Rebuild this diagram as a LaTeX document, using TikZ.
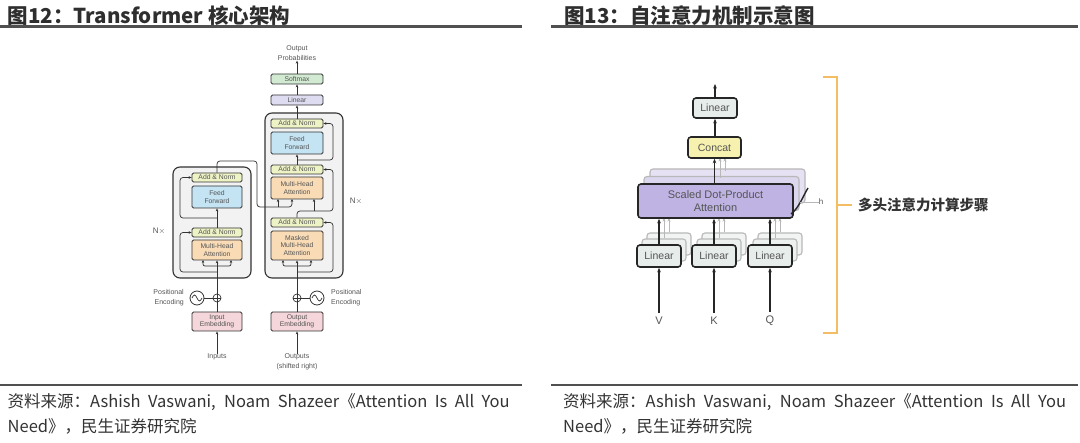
\documentclass[tikz,border=0pt]{standalone}
\usepackage{fontspec}
\setmainfont{Noto Sans CJK SC}
\newfontfamily\labf{Liberation Sans}
\usetikzlibrary{arrows.meta}
\definecolor{dk}{HTML}{333333}
\definecolor{txtg}{HTML}{555555}
\definecolor{anc}{HTML}{EEF3C6}
\definecolor{ffc}{HTML}{C4E3F3}
\definecolor{mhac}{HTML}{F9DCB6}
\definecolor{embc}{HTML}{F5D6DA}
\definecolor{linc}{HTML}{DDDCF1}
\definecolor{smc}{HTML}{D2EAD2}
\definecolor{stackc}{HTML}{F2F2F2}
\definecolor{rlin}{HTML}{E7EDEB}
\definecolor{rcon}{HTML}{F6F1AE}
\definecolor{rsd}{HTML}{BEB3E3}
\definecolor{rsdb}{HTML}{DCD6EE}
\definecolor{fadeb}{HTML}{B8B8B8}
\definecolor{orng}{HTML}{F3BE63}
\definecolor{ttl}{HTML}{2E2E2E}
\definecolor{rule}{HTML}{505050}
\begin{document}
\begin{tikzpicture}[x=1pt,y=-1pt,
  tbox/.style={draw=dk, line width=0.8pt, rounded corners=1.5pt, minimum width=50pt,
    inner sep=0pt, align=center, text=txtg, font=\labf\fontsize{6.8}{7.4}\selectfont},
  anbox/.style={tbox, fill=anc, minimum height=9pt},
  ffbox/.style={tbox, fill=ffc},
  mhbox/.style={tbox, fill=mhac},
  embox/.style={tbox, fill=embc, minimum height=19pt},
  stackbox/.style={draw=dk, line width=1.1pt, rounded corners=7pt, fill=stackc, minimum width=78pt, inner sep=0pt},
  arr/.style={-{Stealth[length=3pt,width=2.6pt]}, line width=0.7pt, draw=dk},
  ln/.style={line width=0.7pt, draw=dk},
  lab/.style={text=txtg, font=\labf\fontsize{7}{10}\selectfont, inner sep=0pt},
  rbox/.style={draw=black!85, line width=1.6pt, rounded corners=3pt, inner sep=0pt, align=center,
    text=txtg, font=\labf\fontsize{10.5}{12}\selectfont},
  rfade/.style={draw=fadeb, line width=1.1pt, rounded corners=3pt, inner sep=0pt},
  arr2/.style={-{Stealth[length=4.5pt,width=3.6pt]}, line width=1.4pt, draw=black!85},
  arrf/.style={-{Stealth[length=3.5pt,width=3pt]}, line width=1pt, draw=fadeb},
  capt/.style={anchor=west, inner sep=0pt, text=dk, font=\fontsize{16.5}{19}\selectfont},
  title/.style={anchor=west, inner sep=0pt, text=ttl, font=\bfseries\fontsize{20.5}{24}\selectfont}
]
\useasboundingbox[fill=white] (0,0) rectangle (1080,443);

% ---------- titles ----------
\node[title] (t1) at (7.5,16) {图12：Transformer 核心架构};
\node[title] (t2) at (564,16) {图13：自注意力机制示意图};
\draw[rule, line width=3pt] (0,27) -- (522,27);
\draw[rule, line width=3pt] (551,27) -- (1078,27);

% ---------- captions ----------
\draw[rule, line width=2.5pt] (0,385) -- (522,385);
\draw[rule, line width=2.5pt] (551,385) -- (1078,385);
\node[capt] (c1a) at (7.5,402) {\makebox[502pt][s]{资料来源：Ashish Vaswani, Noam Shazeer《Attention Is All You}};
\node[capt] (c1b) at (7.5,426) {Need》，民生证券研究院};
\node[capt] (c2a) at (563,402) {\makebox[503pt][s]{资料来源：Ashish Vaswani, Noam Shazeer《Attention Is All You}};
\node[capt] (c2b) at (563,426) {Need》，民生证券研究院};

% ---------- Transformer (left) ----------
\node[stackbox, minimum height=111pt] (encBox) at (212,222.5) {};
\node[stackbox, minimum height=165pt] (decBox) at (304,195.5) {};

% encoder
\node[embox] (eIE) at (217,321.5) {Input\\Embedding};
\node[mhbox, minimum height=20pt] (eMHA) at (217,250) {Multi-Head\\Attention};
\node[anbox] (eAN1) at (217,232.5) {Add \& Norm};
\node[ffbox, minimum height=22pt] (eFF) at (217,197) {Feed\\Forward};
\node[anbox] (eAN2) at (217,177.5) {Add \& Norm};
\node[draw=dk, line width=0.7pt, circle, minimum size=8pt, inner sep=0pt] (ePlus) at (217,298) {};
\draw[ln] (ePlus.north) -- (ePlus.south) (ePlus.west) -- (ePlus.east);
\node[draw=dk, line width=0.8pt, circle, minimum size=14pt, inner sep=0pt] (eSin) at (197,298) {};
\draw[ln, shift={(eSin.center)}] (-5,0) sin (-2.5,-3) cos (0,0) sin (2.5,3) cos (5,0);
\draw[ln] (eSin.east) -- (ePlus.west);
\node[lab, align=right, anchor=east] (ePE) at (184,298) {Positional\\Encoding};
\node[lab] (eIn) at (217,357) {Inputs};
\node[lab, font=\labf\fontsize{8}{10}\selectfont] (eNx) at (159,231) {N$\times$};

\draw[arr] (eIn.north) -- (eIE.south);
\draw[ln] (eIE.north) -- (ePlus.south);
\draw[arr] (ePlus.north) -- (eMHA.south);
\coordinate (eB0) at (217,272);
\coordinate (eQ) at (217,266);
\draw[arr, rounded corners=3pt] (eB0) -- (180,272) -- (180,232.5) -- (eAN1.west);
\draw[arr, rounded corners=2pt] (eQ) -- (203,266) -- (203,260);
\draw[arr, rounded corners=2pt] (eQ) -- (231,266) -- (231,260);
\draw[arr] (eAN1.north) -- (eFF.south);
\coordinate (eB1) at (217,218);
\draw[arr, rounded corners=3pt] (eB1) -- (180,218) -- (180,177.5) -- (eAN2.west);

% decoder
\node[embox, minimum width=52pt] (dOE) at (297,321.5) {Output\\Embedding};
\node[mhbox, minimum width=52pt, minimum height=29pt] (dMMHA) at (297,245.5) {Masked\\Multi-Head\\Attention};
\node[anbox, minimum width=52pt] (dAN1) at (297,222.5) {Add \& Norm};
\node[mhbox, minimum width=52pt, minimum height=22pt] (dMHA) at (297,188) {Multi-Head\\Attention};
\node[anbox, minimum width=52pt] (dAN2) at (297,169.5) {Add \& Norm};
\node[ffbox, minimum width=52pt, minimum height=22pt] (dFF) at (297,143) {Feed\\Forward};
\node[anbox, minimum width=52pt] (dAN3) at (297,123.5) {Add \& Norm};
\node[tbox, fill=linc, minimum width=52pt, minimum height=10pt] (dLin) at (297,100) {Linear};
\node[tbox, fill=smc, minimum width=52pt, minimum height=10pt] (dSm) at (297,79) {Softmax};
\node[lab, align=center] (dOP) at (297,53) {Output\\Probabilities};
\node[draw=dk, line width=0.7pt, circle, minimum size=8pt, inner sep=0pt] (dPlus) at (297,298) {};
\draw[ln] (dPlus.north) -- (dPlus.south) (dPlus.west) -- (dPlus.east);
\node[draw=dk, line width=0.8pt, circle, minimum size=14pt, inner sep=0pt] (dSin) at (317,298) {};
\draw[ln, shift={(dSin.center)}] (-5,0) sin (-2.5,-3) cos (0,0) sin (2.5,3) cos (5,0);
\draw[ln] (dSin.west) -- (dPlus.east);
\node[lab, align=left, anchor=west] (dPE) at (331,298) {Positional\\Encoding};
\node[lab, align=center] (dOut) at (297,362) {Outputs\\(shifted right)};
\node[lab, font=\labf\fontsize{8}{10}\selectfont] (dNx) at (356,201) {N$\times$};

\draw[arr] (dOut.north) -- (dOE.south);
\draw[ln] (dOE.north) -- (dPlus.south);
\draw[arr] (dPlus.north) -- (dMMHA.south);
\coordinate (dB0) at (297,272);
\coordinate (dQ) at (297,266);
\draw[arr, rounded corners=3pt] (dB0) -- (333,272) -- (333,222.5) -- (dAN1.east);
\draw[arr, rounded corners=2pt] (dQ) -- (283,266) -- (283,260);
\draw[arr, rounded corners=2pt] (dQ) -- (311,266) -- (311,260);
\draw[arr, rounded corners=3pt] (dAN1.north) -- (297,211) -- (333,211) -- (333,169.5) -- (dAN2.east);
\coordinate (dQ2) at (314,211);
\draw[arr] (dQ2) -- (314,199);
\draw[arr] (dAN2.north) -- (dFF.south);
\coordinate (dB2) at (297,160);
\draw[arr, rounded corners=3pt] (dB2) -- (333,160) -- (333,123.5) -- (dAN3.east);
\draw[arr] (dAN3.north) -- (dLin.south);
\draw[arr] (dLin.north) -- (dSm.south);
\draw[arr] (dSm.north) -- (dOP.south);
% encoder -> decoder
\draw[arr, rounded corners=3pt] (eAN2.north) -- (217,161) -- (257,161) -- (257,207) -- (292,207) -- (292,199);
\coordinate (eK) at (278,207);
\draw[arr] (eK) -- (278,199);

% ---------- Multi-head attention (right) ----------
\foreach \cx/\nm in {659/v,714/k,770/q}{
  \node[rfade, fill=rlin!60, minimum width=44pt, minimum height=22pt] (\nm LinB2) at (\cx+10,244) {};
  \node[rfade, fill=rlin!80, minimum width=44pt, minimum height=22pt] (\nm LinB1) at (\cx+5,250) {};
}
\node[rfade, fill=rsdb!70, minimum width=155pt, minimum height=34pt] (sdB2) at (727.5,186) {};
\node[rfade, fill=rsdb, minimum width=155pt, minimum height=34pt] (sdB1) at (721.5,193.5) {};
\foreach \cx/\nm in {659/v,714/k,770/q}{
  \draw[arrf] (\nm LinB1.north -| \cx+5,0) -- (\cx+5,218);
  \draw[arrf] (\nm LinB2.north -| \cx+10,0) -- (\cx+10,218);
}
\draw[arrf] (720,178) -- (720,158);
\draw[arrf] (725,171) -- (725,158);
\node[rbox, fill=rsd, minimum width=155pt, minimum height=34pt, font=\labf\fontsize{11}{13}\selectfont] (sdpa) at (715.5,201) {Scaled Dot-Product\\Attention};
\node[rbox, fill=rlin, minimum width=44pt, minimum height=22pt] (vLin) at (659,256) {Linear};
\node[rbox, fill=rlin, minimum width=44pt, minimum height=22pt] (kLin) at (714,256) {Linear};
\node[rbox, fill=rlin, minimum width=44pt, minimum height=22pt] (qLin) at (770,256) {Linear};
\node[rbox, fill=rcon, minimum width=53pt, minimum height=21pt] (concat) at (714.5,147.5) {Concat};
\node[rbox, fill=rlin, minimum width=44pt, minimum height=20pt] (oLin) at (715,108) {Linear};
\node[text=txtg, font=\labf\fontsize{11}{13}\selectfont, inner sep=0pt] (vIn) at (659,321) {V};
\node[text=txtg, font=\labf\fontsize{11}{13}\selectfont, inner sep=0pt] (kIn) at (714,321) {K};
\node[text=txtg, font=\labf\fontsize{11}{13}\selectfont, inner sep=0pt] (qIn) at (770,321) {Q};
\coordinate (oTop) at (715,84);
\draw[arr2] ([yshift=4pt]vIn.north) -- (vLin.south);
\draw[arr2] ([yshift=4pt]kIn.north) -- (kLin.south);
\draw[arr2] ([yshift=4pt]qIn.north) -- (qLin.south);
\draw[arr2] (vLin.north) -- (vLin.north |- sdpa.south);
\draw[arr2] (kLin.north) -- (kLin.north |- sdpa.south);
\draw[arr2] (qLin.north) -- (qLin.north |- sdpa.south);
\draw[arr2] (sdpa.north -| concat.south) -- (concat.south);
\draw[arr2] (concat.north -| oLin.south) -- (oLin.south);
\draw[arr2] (oLin.north) -- (oTop);
\node[text=txtg, font=\labf\fontsize{8}{9}\selectfont, inner sep=0pt] (hLab) at (821,202) {h};
\draw[line width=1.4pt, black!85] (791,214) .. controls (799,208) and (803,196) .. (808,188);
\draw[line width=0.8pt, fadeb] (800,202) -- (hLab.west);
\draw[orng, line width=1.6pt] (823,77) -- (837,77) -- (837,333) -- (823,333);
\node[anchor=west, inner sep=0pt, text=dk, font=\bfseries\fontsize{14.5}{16}\selectfont] (brLab) at (858,205) {多头注意力计算步骤};
\draw[orng, line width=1.6pt] (837,205) -- (852,205);
\end{tikzpicture}
\end{document}
